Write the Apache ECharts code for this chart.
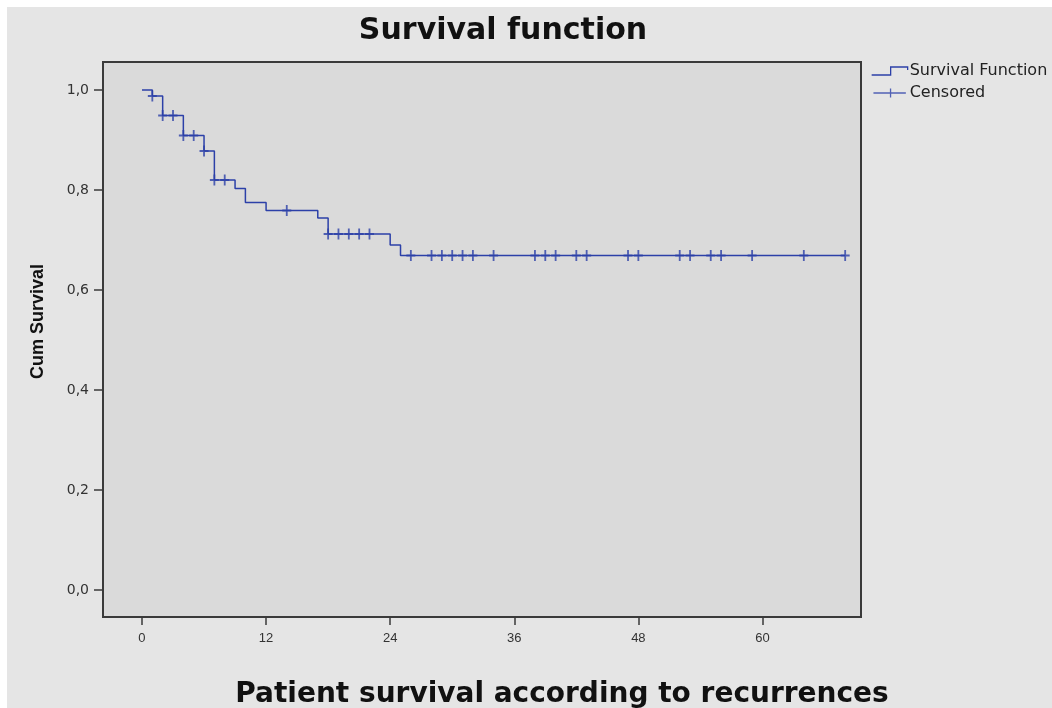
<!DOCTYPE html>
<html>
<head>
<meta charset="utf-8">
<script src="https://cdn.jsdelivr.net/npm/echarts@6/dist/echarts.min.js"></script>
<style>
html,body{margin:0;padding:0;background:#ffffff;overflow:hidden;}
#bg{position:absolute;left:7px;top:7px;width:1045px;height:701px;background:#e5e5e5;}
#c{position:absolute;left:0;top:0;width:1052px;height:708px;}
</style>
</head>
<body>
<div id="bg"></div>
<div id="c"></div>
<script>
// Kaplan-Meier step points: time (months) and cumulative survival after the step
const stepTimes = [0, 1, 2, 4, 6, 7, 9, 10, 12, 17, 18, 24, 25, 68];
const stepSurvival = [1.0, 0.988, 0.949, 0.909, 0.878, 0.82, 0.803, 0.775, 0.759, 0.744, 0.712, 0.69, 0.669, 0.669];
// Censored observation times (months)
const censoredTimes = [1, 2, 3, 4, 5, 6, 7, 8, 14, 18, 19, 20, 21, 22, 26, 28, 29, 30, 31, 32, 34, 38, 39, 40, 42, 43, 47, 48, 52, 53, 55, 56, 59, 64, 68];
// Axis tick labels
const xTicks = [0, 12, 24, 36, 48, 60];
const yTicks = [0.0, 0.2, 0.4, 0.6, 0.8, 1.0];

const titleText = 'Survival function';
const xName = 'Patient survival according to recurrences';
const yName = 'Cum Survival';
const seriesNames = ['Survival Function', 'Censored'];

const lineColor = '#2c40a8';

function survivalAt(t) {
  let s = stepSurvival[0];
  for (let i = 0; i < stepTimes.length; i++) {
    if (stepTimes[i] <= t) s = stepSurvival[i];
  }
  return s;
}

const stepData = stepTimes.map((t, i) => [t, stepSurvival[i]]);
const censData = censoredTimes.map(t => [t, survivalAt(t)]);

const chart = echarts.init(document.getElementById('c'), null, {renderer: 'canvas'});
chart.setOption({
  backgroundColor: 'transparent',
  animation: false,
  title: [
    {
      text: titleText,
      left: 498,
      textAlign: 'center',
      top: 11,
      textStyle: {fontFamily: 'DejaVu Sans', fontWeight: 'bold', fontSize: 30, color: '#111'}
    },
    {
      text: xName,
      left: 557,
      textAlign: 'center',
      top: 676,
      textStyle: {fontFamily: 'DejaVu Sans', fontWeight: 'bold', fontSize: 28, color: '#111'}
    }
  ],
  legend: {
    orient: 'vertical',
    left: 866,
    top: 58,
    itemGap: 6,
    itemWidth: 36,
    itemHeight: 9,
    textStyle: {fontFamily: 'DejaVu Sans', fontSize: 16, color: '#222', padding: [0, 0, 0, -3]},
    data: [
      {name: seriesNames[0], icon: 'path://M0,9 L19,9 L19,1 L36,1 L36,4', itemStyle: {color: 'transparent', borderColor: lineColor, borderWidth: 1.3}},
      {name: seriesNames[1], icon: 'path://M0,5 L36,5 M19,0 L19,10', itemStyle: {color: 'transparent', borderColor: lineColor, borderWidth: 1.3}}
    ]
  },
  grid: {
    left: 103, right: 191, top: 62, bottom: 91,
    show: true,
    backgroundColor: '#dadada',
    borderColor: '#3a3a3a',
    borderWidth: 2,
    containLabel: false
  },
  xAxis: {
    type: 'value',
    min: -3.77,
    max: 69.53,
    axisLine: {show: true, onZero: false, lineStyle: {color: '#3a3a3a', width: 2}},
    axisTick: {show: true, customValues: xTicks, length: 8, lineStyle: {color: '#3a3a3a', width: 1.5}},
    axisLabel: {customValues: xTicks, margin: 15, fontFamily: 'Liberation Sans Narrow, Liberation Sans', fontSize: 13, color: '#333'},
    splitLine: {show: false}
  },
  yAxis: {
    type: 'value',
    min: -0.054,
    max: 1.056,
    name: yName,
    nameLocation: 'middle',
    nameGap: 56,
    nameRotate: 90,
    nameTextStyle: {fontFamily: 'Liberation Sans Narrow, Liberation Sans', fontWeight: 'bold', fontSize: 18, color: '#111', padding: [0, 0, 0, 36]},
    axisLine: {show: true, onZero: false, lineStyle: {color: '#3a3a3a', width: 2}},
    axisTick: {show: true, customValues: yTicks, length: 9, lineStyle: {color: '#3a3a3a', width: 1.5}},
    axisLabel: {customValues: yTicks, margin: 14, fontFamily: 'DejaVu Sans', fontSize: 14, color: '#333',
      formatter: v => v.toFixed(1).replace('.', ',')},
    splitLine: {show: false}
  },
  series: [
    {
      name: seriesNames[0],
      type: 'line',
      step: 'end',
      data: stepData,
      showSymbol: false,
      symbol: 'none',
      lineStyle: {color: lineColor, width: 1.5},
      itemStyle: {color: lineColor},
      z: 2
    },
    {
      name: seriesNames[1],
      type: 'scatter',
      data: censData,
      symbol: 'path://M0,5 L8,5 M4,0 L4,10',
      symbolSize: [9, 11],
      itemStyle: {color: 'transparent', borderColor: lineColor, borderWidth: 2},
      z: 3
    }
  ]
});
</script>
</body>
</html>
